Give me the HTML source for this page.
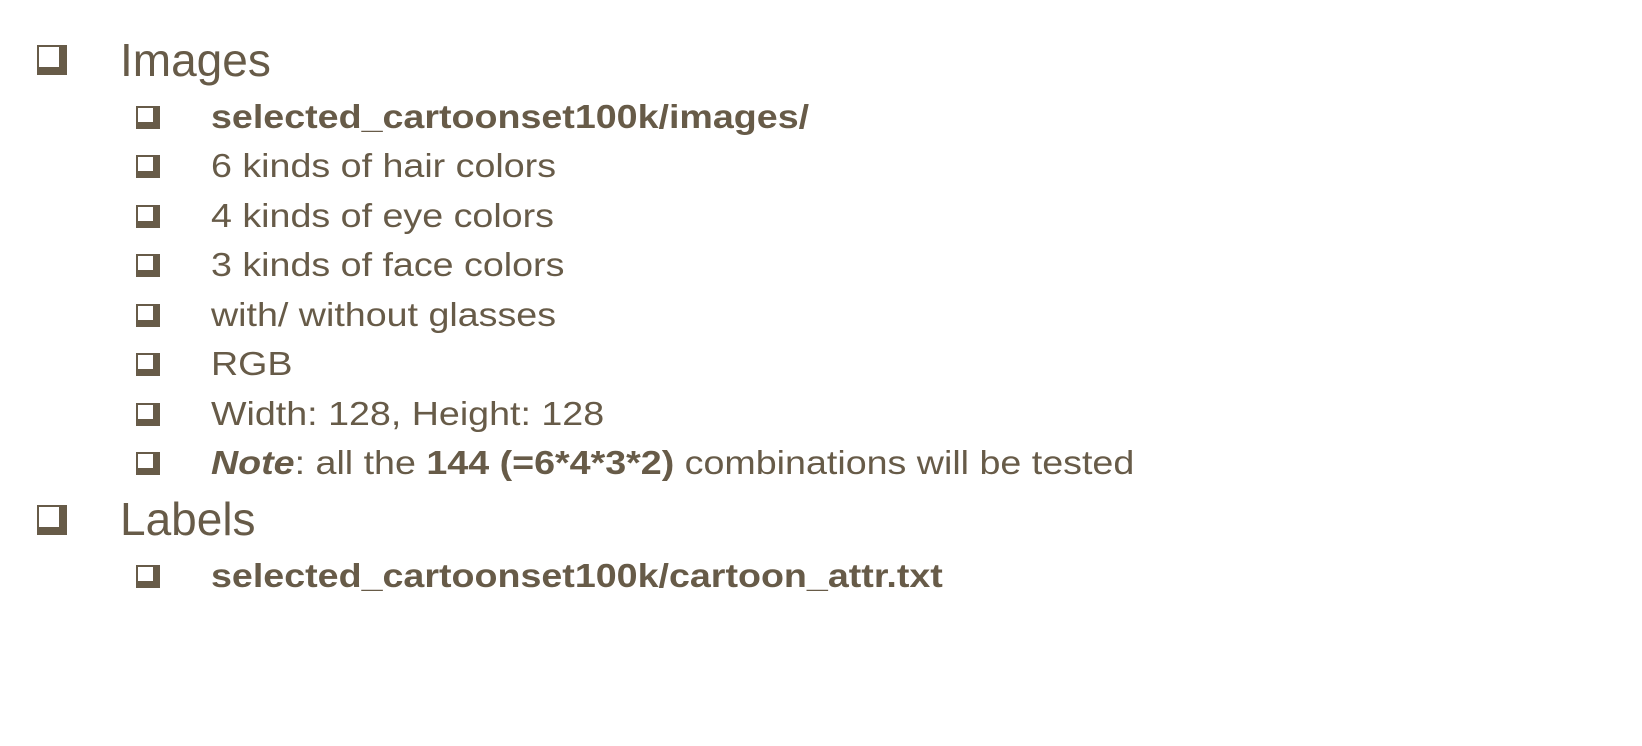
<!DOCTYPE html>
<html><head><meta charset="utf-8"><style>
body{margin:0;width:1642px;height:746px;background:#fff;overflow:hidden;position:relative;font-family:"Liberation Sans",sans-serif;color:#675b48}
.t{position:absolute;white-space:nowrap}
.l1{font-size:46px;line-height:56px;left:120px}
.l2{font-size:33px;line-height:40px;left:211px;transform:scaleX(1.14);transform-origin:0 0}
.b{position:absolute;background:#675b48}
.b i{position:absolute;left:0;top:0;background:#fff;border:2px solid #675b48;box-sizing:border-box}
.B{width:30px;height:30px;left:37px}
.B i{width:24px;height:24px}
.s{width:24px;height:23px;left:136px}
.s i{width:19px;height:18px}
b{font-weight:bold}
</style></head><body>
<div class="b B" style="top:45px"><i></i></div><div class="t l1" style="top:32px">Images</div>
<div class="b s" style="top:106px"><i></i></div><div class="t l2" style="top:97px"><b>selected_cartoonset100k/images/</b></div>
<div class="b s" style="top:155px"><i></i></div><div class="t l2" style="top:146px">6 kinds of hair colors</div>
<div class="b s" style="top:205px"><i></i></div><div class="t l2" style="top:196px">4 kinds of eye colors</div>
<div class="b s" style="top:254px"><i></i></div><div class="t l2" style="top:245px">3 kinds of face colors</div>
<div class="b s" style="top:304px"><i></i></div><div class="t l2" style="top:295px">with/ without glasses</div>
<div class="b s" style="top:353px"><i></i></div><div class="t l2" style="top:344px">RGB</div>
<div class="b s" style="top:403px"><i></i></div><div class="t l2" style="top:394px">Width: 128, Height: 128</div>
<div class="b s" style="top:452px"><i></i></div><div class="t l2" style="top:443px"><b><i>Note</i></b>: all the <b>144 (=6*4*3*2)</b> combinations will be tested</div>
<div class="b B" style="top:505px"><i></i></div><div class="t l1" style="top:491px">Labels</div>
<div class="b s" style="top:565px"><i></i></div><div class="t l2" style="top:556px"><b>selected_cartoonset100k/cartoon_attr.txt</b></div>
</body></html>
